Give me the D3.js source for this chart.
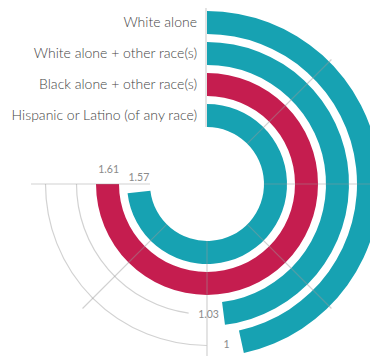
<!DOCTYPE html>
<html>
<head>
<meta charset="utf-8">
<script src="https://cdn.jsdelivr.net/npm/d3@7"></script>
<style>
  html, body { margin: 0; padding: 0; background: #fff; }
  svg { display: block; }
</style>
</head>
<body>
<svg id="chart" width="370" height="356"></svg>
<script>
const categories = ["White alone", "White alone + other race(s)", "Black alone + other race(s)", "Hispanic or Latino (of any race)"];
const values = [1, 1.03, 1.61, 1.57];
const valueLabels = ["1", "1.03", "1.61", "1.57"];
const colors = ["#17a2b2", "#17a2b2", "#c51d4f", "#17a2b2"];

const data = categories.map((c, i) => ({ name: c, value: values[i], label: valueLabels[i], color: colors[i] }));

const cx = 207, cy = 184;
const innerR = 57, outerR = 173;

const svg = d3.select("#chart");
const g = svg.append("g").attr("transform", `translate(${cx},${cy})`);

const y = d3.scaleBand()
  .domain(categories.slice().reverse())
  .range([innerR, outerR])
  .paddingInner(8 / 31)
  .paddingOuter(0);

const x = d3.scaleLinear()
  .domain([0, d3.max(values)])
  .range([0, 1.5 * Math.PI]);

const arc = d3.arc()
  .innerRadius(d => y(d.name))
  .outerRadius(d => y(d.name) + y.bandwidth())
  .startAngle(0)
  .endAngle(d => x(d.value));

const mid = d => y(d.name) + y.bandwidth() / 2;

// gray track remainder arcs
const trackArc = d3.arc()
  .innerRadius(mid)
  .outerRadius(mid)
  .startAngle(d => x(d.value) + 35 / mid(d))
  .endAngle(1.5 * Math.PI);

g.append("g").selectAll("path")
  .data(data.filter(d => x(d.value) + 35 / mid(d) < 1.5 * Math.PI))
  .join("path")
  .attr("d", trackArc)
  .attr("fill", "none")
  .attr("stroke", "#d2d2d2")
  .attr("stroke-width", 1.2);

// bars
g.append("g").selectAll("path")
  .data(data)
  .join("path")
  .attr("d", arc)
  .attr("fill", d => d.color);

// radial gridlines
const gridAngles = d3.range(0, 271, 45);
g.append("g").selectAll("line")
  .data(gridAngles)
  .join("line")
  .attr("x1", a => innerR * Math.sin(a * Math.PI / 180))
  .attr("y1", a => -innerR * Math.cos(a * Math.PI / 180))
  .attr("x2", a => 176 * Math.sin(a * Math.PI / 180))
  .attr("y2", a => -176 * Math.cos(a * Math.PI / 180))
  .attr("stroke", "#999")
  .attr("stroke-opacity", 0.45)
  .attr("stroke-width", 1.2)
  .attr("transform", a => a === 0 ? "translate(-1,0)" : null);

// category labels
g.append("g").selectAll("text")
  .data(data)
  .join("text")
  .attr("x", -10)
  .attr("y", d => -mid(d))
  .attr("dy", "0.35em")
  .attr("text-anchor", "end")
  .attr("font-family", "Lato, 'Open Sans', sans-serif")
  .attr("font-weight", 300)
  .attr("font-size", 14)
  .attr("fill", "#444")
  .text(d => d.name);

// value labels
g.append("g").selectAll("text")
  .data(data)
  .join("text")
  .attr("x", d => mid(d) * Math.sin(x(d.value) + 15 / mid(d)))
  .attr("y", d => -mid(d) * Math.cos(x(d.value) + 15 / mid(d)))
  .attr("dy", "0.35em")
  .attr("text-anchor", "middle")
  .attr("font-family", "Lato, 'Open Sans', sans-serif")
  .attr("font-weight", 400)
  .attr("font-size", 10.5)
  .attr("fill", "#8a8a8a")
  .text(d => d.label);
</script>
</body>
</html>
